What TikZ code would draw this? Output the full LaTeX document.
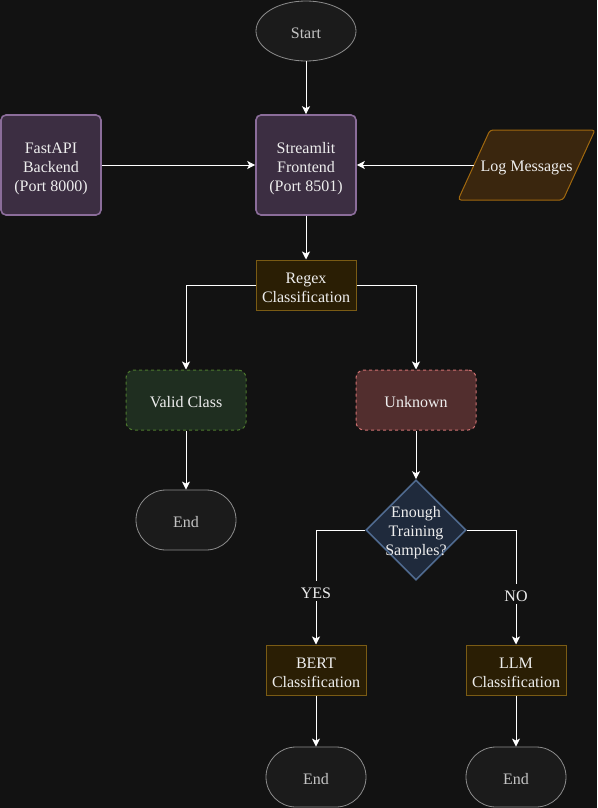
\documentclass[tikz,border=0pt]{standalone}
\usepackage{fontspec}
\setmainfont{Liberation Serif}
\usetikzlibrary{shapes.geometric,arrows.meta}

\definecolor{bgcol}{HTML}{121212}
\definecolor{txtcol}{HTML}{EEEEEE}
\definecolor{endtxt}{HTML}{C4C4C4}
\definecolor{endfill}{HTML}{1B1B1B}
\definecolor{enddraw}{HTML}{8C8C8C}
\definecolor{appfill}{HTML}{3C2E42}
\definecolor{appdraw}{HTML}{8B6D9A}
\definecolor{procfill}{HTML}{2A1E04}
\definecolor{procdraw}{HTML}{7A5B14}
\definecolor{logfill}{HTML}{3A260E}
\definecolor{logdraw}{HTML}{A0680E}
\definecolor{okfill}{HTML}{1F2E20}
\definecolor{okdraw}{HTML}{4E7A2E}
\definecolor{badfill}{HTML}{522E2E}
\definecolor{baddraw}{HTML}{D07272}
\definecolor{askfill}{HTML}{1F2A3C}
\definecolor{askdraw}{HTML}{4F6A8F}

\begin{document}
\begin{tikzpicture}[x=1pt, y=1pt,
  every node/.style={font=\fontsize{16}{19}\selectfont, text=txtcol, align=center,
    execute at begin node={\rule{0pt}{16pt}}},
  sink/.style={execute at begin node={\rule{0pt}{#1}}},
  terminal/.style={draw=enddraw, fill=endfill, text=endtxt, line width=0.8pt,
    rounded corners=30pt, minimum width=100pt, minimum height=60pt},
  startnode/.style={ellipse, draw=enddraw, fill=endfill, text=endtxt, line width=0.8pt,
    minimum width=100pt, minimum height=60pt},
  appbox/.style={draw=appdraw, fill=appfill, line width=1.6pt, rounded corners=5pt,
    minimum width=100pt, minimum height=100pt, inner sep=0pt, sink=57pt},
  procbox/.style={draw=procdraw, fill=procfill, line width=1pt,
    minimum width=100pt, minimum height=50pt, inner sep=0pt, sink=35pt},
  resultbox/.style={dashed, line width=1pt, rounded corners=8pt,
    minimum width=120pt, minimum height=60pt},
  flow/.style={draw=white, line width=1pt, -{Stealth[length=8pt,width=8pt,inset=2pt]}}]

% background and page size
\fill[bgcol] (0,0) rectangle (597,-808);
\useasboundingbox (0,0) rectangle (597,-808);

% top row
\node[startnode] (start) at (306,-31) {Start};
\node[appbox] (fastapi) at (51,-165) {FastAPI\\Backend\\(Port 8000)};
\node[appbox] (stream) at (306,-165) {Streamlit\\Frontend\\(Port 8501)};
\filldraw[draw=logdraw, fill=logfill, line width=1pt, rounded corners=3pt]
  (458,-200) -- (490,-130) -- (595,-130) -- (563,-200) -- cycle;
\node[inner sep=0pt, minimum width=90pt, minimum height=70pt] (logs) at (526.5,-165) {Log Messages};
\coordinate (login) at (474,-165);

% regex step and its two results
\node[procbox] (regex) at (306,-285) {Regex\\Classification};
\node[resultbox, draw=okdraw, fill=okfill] (valid) at (186,-400) {Valid Class};
\node[resultbox, draw=baddraw, fill=badfill] (unknown) at (416,-400) {Unknown};
\node[terminal] (endA) at (186,-520) {End};

% decision
\node[diamond, draw=askdraw, fill=askfill, line width=1.6pt, aspect=1,
  minimum size=100pt, inner sep=-9pt, sink=55pt] (enough) at (416,-530) {Enough\\Training\\Samples?};
\node[procbox] (bert) at (316,-670) {BERT\\Classification};
\node[procbox] (llm) at (516,-670) {LLM\\Classification};
\node[terminal] (endB) at (316,-777) {End};
\node[terminal] (endC) at (516,-777) {End};

% connectors
\draw[flow] (start) -- (stream);
\draw[flow] (fastapi) -- (stream);
\draw[flow] (login) -- (stream.east);
\draw[flow] (stream) -- (regex);
\draw[flow] (regex.west) -| (valid.north);
\draw[flow] (regex.east) -| (unknown.north);
\draw[flow] (valid) -- (endA);
\draw[flow] (unknown) -- (enough);
\draw[flow] (enough.west) -| node[pos=0.765, fill=bgcol, inner sep=2pt] {YES} (bert.north);
\draw[flow] (enough.east) -| node[pos=0.778, fill=bgcol, inner sep=2pt] {NO} (llm.north);
\draw[flow] (bert) -- (endB);
\draw[flow] (llm) -- (endC);
\end{tikzpicture}
\end{document}
